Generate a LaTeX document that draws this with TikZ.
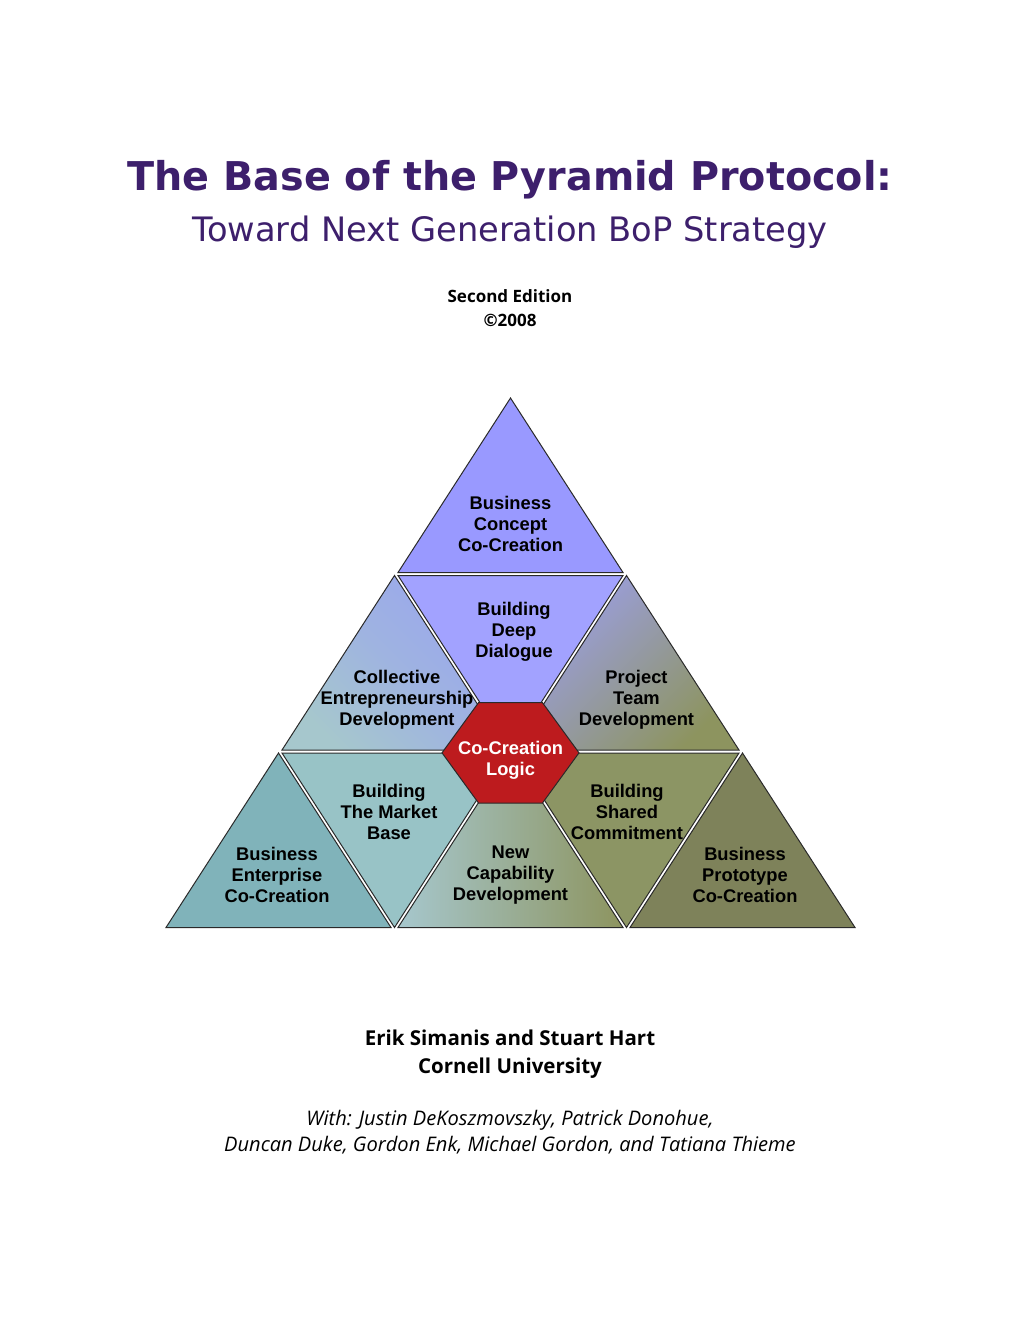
\documentclass[tikz,border=0pt]{standalone}
\usepackage{fontspec}
\setmainfont{Liberation Sans}
\newfontfamily\verdfont{DejaVu Sans}
\newfontfamily\osfont{Open Sans}
\definecolor{titlepurple}{HTML}{3D1F6C}
\definecolor{cTop}{HTML}{9999FF}
\definecolor{cDeep}{HTML}{A2A2FF}
\definecolor{cBlue}{HTML}{9AA6EE}
\definecolor{cTeal}{HTML}{A6C7CD}
\definecolor{cLav}{HTML}{9C9FEA}
\definecolor{cOlive}{HTML}{8D945F}
\definecolor{cMarket}{HTML}{98C3C6}
\definecolor{cEnter}{HTML}{80B3BA}
\definecolor{cShared}{HTML}{8C9564}
\definecolor{cProto}{HTML}{7E825A}
\definecolor{cHex}{HTML}{BD1B1E}
\definecolor{cEdge}{HTML}{2A2A2A}
\tikzset{
  tri/.style={draw=cEdge, line width=0.6pt, line join=miter},
  lbl/.style={font=\bfseries\fontsize{11}{12.6}\selectfont, align=center, text=black, inner sep=0pt},
  hexlbl/.style={lbl, text=white},
}
\begin{document}
\begin{tikzpicture}[x=0.6pt,y=-0.6pt]
\useasboundingbox (0,0) rectangle (1020,1320);
\fill[white] (0,0) rectangle (1020,1320);

% titles
\node[anchor=base, text=titlepurple, font=\verdfont\bfseries\fontsize{23.8}{28}\selectfont, inner sep=0pt] (title) at (510,190.5) {The Base of the Pyramid Protocol:};
\node[anchor=base, text=titlepurple, font=\verdfont\fontsize{20.2}{24}\selectfont, inner sep=0pt] (subtitle) at (510,241.5) {Toward Next Generation BoP Strategy};
\node[anchor=base, font=\osfont\bfseries\fontsize{10.2}{12}\selectfont, inner sep=0pt] (edition) at (510,302.5) {Second Edition};
\node[anchor=base, font=\osfont\bfseries\fontsize{10.2}{12}\selectfont, inner sep=0pt] (year) at (510,326) {©2008};

% triangles
\path[tri, fill=cTop] (510.5,398) -- (398,572.5) -- (623,572.5) -- cycle;
\path[tri, fill=cDeep] (398,575.5) -- (623,575.5) -- (510.5,750) -- cycle;
\shadedraw[tri, top color=cBlue, bottom color=cTeal, middle color=cBlue!60!cTeal, shading angle=-45] (394.5,575.5) -- (282,750) -- (507,750) -- cycle;
\shadedraw[tri, top color=cLav, bottom color=cOlive, shading angle=45] (626.5,575.5) -- (514,750) -- (739,750) -- cycle;
\path[tri, fill=cEnter] (278.5,753) -- (166,927.5) -- (391,927.5) -- cycle;
\path[tri, fill=cMarket] (282,753) -- (507,753) -- (394.5,927.5) -- cycle;
\shadedraw[tri, left color=cTeal, middle color=cTeal!55!cOlive, right color=cOlive] (510.5,753) -- (398,927.5) -- (623,927.5) -- cycle;
\path[tri, fill=cShared] (514,753) -- (739,753) -- (626.5,927.5) -- cycle;
\path[tri, fill=cProto] (742.5,753) -- (630,927.5) -- (855,927.5) -- cycle;

% hexagon
\path[tri, fill=cHex] (442,752.8) -- (478.5,702.7) -- (542.5,702.7) -- (579,752.8) -- (542.5,803) -- (478.5,803) -- cycle;

% labels
\node[lbl] (concept) at (510.5,523.5) {Business\\Concept\\Co-Creation};
\node[lbl] (deep) at (514,631.5) {Building\\Deep\\Dialogue};
\node[lbl] (collective) at (397,699.5) {Collective\\Entrepreneurship\\Development};
\node[lbl] (team) at (636.5,699.5) {Project\\Team\\Development};
\node[hexlbl] (logic) at (510.5,760.5) {Co-Creation\\Logic};
\node[lbl] (market) at (389,811.5) {Building\\The Market\\Base};
\node[lbl] (shared) at (627,811.5) {Building\\Shared\\Commitment};
\node[lbl] (enterprise) at (277,874.5) {Business\\Enterprise\\Co-Creation};
\node[lbl] (capability) at (510.5,875.5) {New\\Capability\\Development};
\node[lbl] (prototype) at (745,874.5) {Business\\Prototype\\Co-Creation};

% authors
\node[anchor=base, font=\osfont\bfseries\fontsize{12.3}{14}\selectfont, inner sep=0pt] (authors) at (510,1045) {Erik Simanis and Stuart Hart};
\node[anchor=base, font=\osfont\bfseries\fontsize{12.3}{14}\selectfont, inner sep=0pt] (cornell) at (510,1073) {Cornell University};
\node[anchor=base, font=\osfont\itshape\fontsize{12.05}{14}\selectfont, inner sep=0pt] (with1) at (510,1125) {With: Justin DeKoszmovszky, Patrick Donohue,};
\node[anchor=base, font=\osfont\itshape\fontsize{12.05}{14}\selectfont, inner sep=0pt] (with2) at (510,1151) {Duncan Duke, Gordon Enk, Michael Gordon, and Tatiana Thieme};
\end{tikzpicture}
\end{document}
